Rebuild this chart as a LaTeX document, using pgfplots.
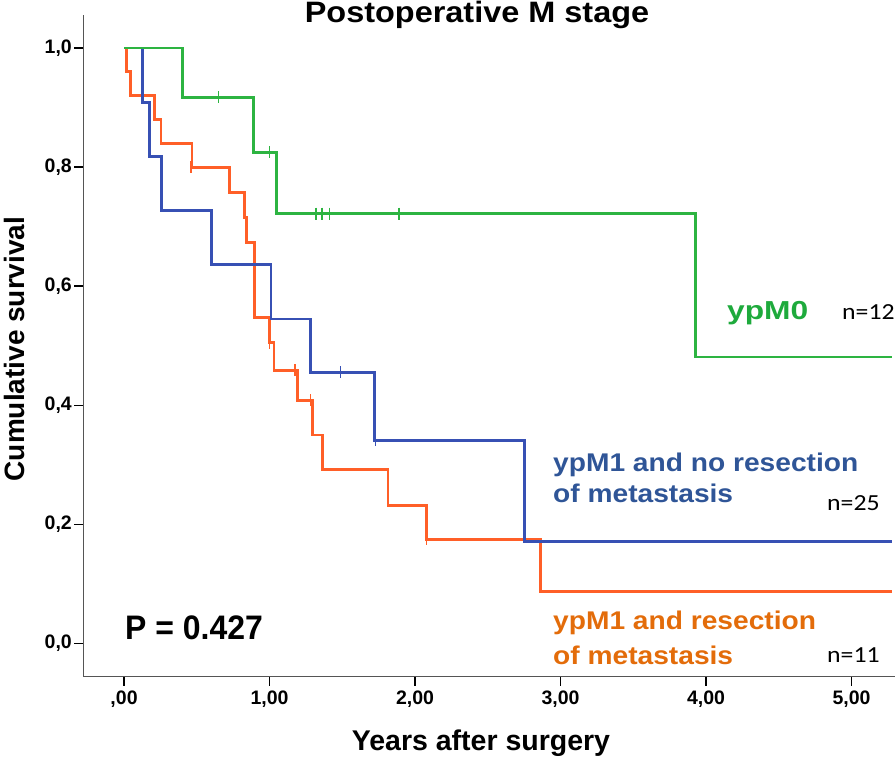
\documentclass[border=0pt]{standalone}
\usepackage{pgfplots}
\pgfplotsset{compat=1.18}
\usepackage{fontspec}
\setmainfont{Liberation Sans}
\newfontfamily\calfont{Carlito}
\definecolor{cgreen}{RGB}{45,180,65}
\definecolor{cblue}{RGB}{55,80,180}
\definecolor{corange}{RGB}{255,95,40}
\definecolor{tgreen}{RGB}{30,170,60}
\definecolor{tblue}{RGB}{47,85,151}
\definecolor{torange}{RGB}{227,108,10}
\definecolor{axgray}{RGB}{85,85,85}
\begin{document}
\begin{tikzpicture}
\useasboundingbox (0,0) rectangle (896pt,758pt);
\begin{axis}[
  at={(83.3pt,81.3pt)}, anchor=south west,
  x=145.5pt, y=595.3pt,
  xmin=-0.28, xmax=5.30, ymin=-0.056, ymax=1.055,
  axis x line=bottom, axis y line=left,
  axis line style={-, axgray, line width=1.2pt},
  tick align=outside,
  major tick length=9pt,
  tick style={black, line width=1.4pt},
  xtick={0,1,2,3,4,5},
  xticklabels={{,00},{1,00},{2,00},{3,00},{4,00},{5,00}},
  ytick={0,0.2,0.4,0.6,0.8,1.0},
  yticklabels={{0,0},{0,2},{0,4},{0,6},{0,8},{1,0}},
  tick label style={font=\fontsize{19.5}{20}\selectfont\bfseries},
  xticklabel style={yshift=-2pt},
  yticklabel style={xshift=1pt},
  clip=false,
]
% ypM1 and resection (orange)
\addplot[const plot, corange, line width=2.8pt] coordinates {
 (0,1) (0.015,0.96) (0.046,0.92) (0.21,0.88) (0.254,0.84) (0.467,0.80)
 (0.724,0.758) (0.83,0.716) (0.84,0.674) (0.896,0.548) (1.0,0.505)
 (1.03,0.459) (1.19,0.408) (1.297,0.350) (1.365,0.292) (1.814,0.232)
 (2.076,0.175) (2.86,0.087) (5.28,0.087)};
\addplot[only marks, mark=|, mark size=6pt, corange, line width=1.3pt] coordinates {
 (0.46,0.80) (1.0,0.505) (1.175,0.459) (1.28,0.408) (2.08,0.175)};
% ypM1 and no resection (blue)
\addplot[const plot, cblue, line width=2.8pt] coordinates {
 (0,1) (0.126,0.909) (0.175,0.818) (0.26,0.727) (0.60,0.636) (1.01,0.545)
 (1.28,0.455) (1.72,0.341) (2.75,0.171) (5.28,0.171)};
\addplot[only marks, mark=|, mark size=6pt, cblue, line width=1.3pt] coordinates {
 (1.49,0.455) (1.73,0.341)};
% ypM0 (green)
\addplot[const plot, cgreen, line width=2.8pt] coordinates {
 (0,1) (0.40,0.917) (0.89,0.825) (1.05,0.722) (3.93,0.481) (5.28,0.481)};
\addplot[only marks, mark=|, mark size=6pt, cgreen, line width=1.3pt] coordinates {
 (0.65,0.917) (1.0,0.825) (1.32,0.722) (1.36,0.722) (1.41,0.722) (1.89,0.722)};
\end{axis}
% title and axis labels
\node[anchor=base, inner sep=0pt] at (477pt,735pt) {\scalebox{1.1}[1]{\fontsize{29.5}{30}\selectfont\bfseries Postoperative M stage}};
\node[anchor=base, inner sep=0pt] at (481pt,8pt) {\fontsize{28.5}{29}\selectfont\bfseries Years after surgery};
\node[anchor=base, inner sep=0pt, rotate=90] at (24pt,409pt) {\fontsize{28}{28}\selectfont\bfseries Cumulative survival};
% annotations
\node[anchor=base west, inner sep=0pt] at (125pt,119pt) {\scalebox{0.94}[1]{\fontsize{34}{34}\selectfont\bfseries P = 0.427}};
\node[anchor=base west, inner sep=0pt, text=tgreen] at (727pt,438pt) {\scalebox{1.22}[1]{\fontsize{26}{26}\selectfont\bfseries ypM0}};
\node[anchor=base west, inner sep=0pt] at (842pt,438pt) {\scalebox{1.12}[1]{\calfont\fontsize{23}{23}\selectfont n=12}};
\node[anchor=base west, inner sep=0pt, text=tblue] at (553pt,286.3pt) {\scalebox{1.1}[1]{\fontsize{25.6}{26}\selectfont\bfseries ypM1 and no resection}};
\node[anchor=base west, inner sep=0pt, text=tblue] at (553pt,255pt) {\scalebox{1.1}[1]{\fontsize{25.6}{26}\selectfont\bfseries of metastasis}};
\node[anchor=base west, inner sep=0pt] at (827pt,247.3pt) {\scalebox{1.12}[1]{\calfont\fontsize{23}{23}\selectfont n=25}};
\node[anchor=base west, inner sep=0pt, text=torange] at (553pt,129pt) {\scalebox{1.1}[1]{\fontsize{25.6}{26}\selectfont\bfseries ypM1 and resection}};
\node[anchor=base west, inner sep=0pt, text=torange] at (553pt,94pt) {\scalebox{1.1}[1]{\fontsize{25.6}{26}\selectfont\bfseries of metastasis}};
\node[anchor=base west, inner sep=0pt] at (827pt,95.3pt) {\scalebox{1.12}[1]{\calfont\fontsize{23}{23}\selectfont n=11}};
\end{tikzpicture}
\end{document}
